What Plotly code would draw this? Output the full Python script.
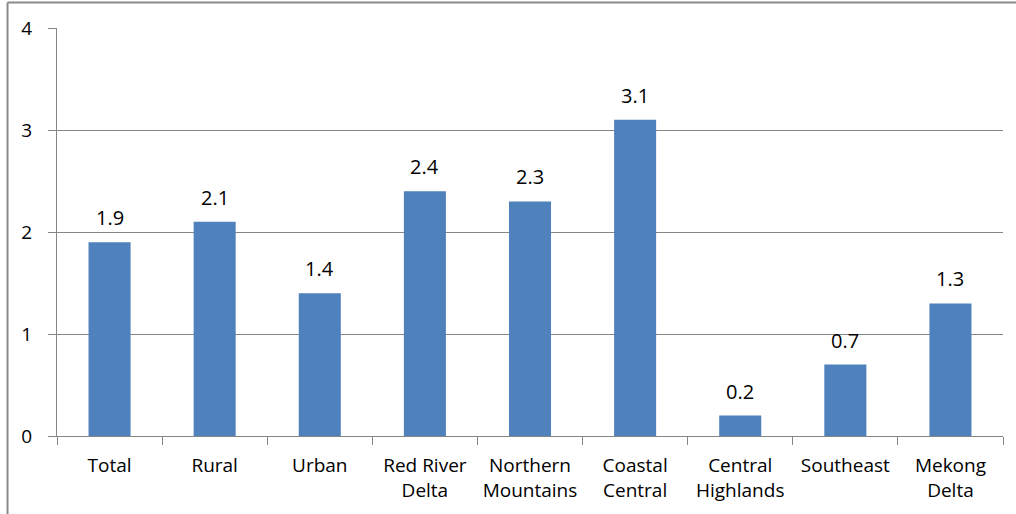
import plotly.graph_objects as go

categories = ["Total", "Rural", "Urban", "Red River<br>Delta", "Northern<br>Mountains",
              "Coastal<br>Central", "Central<br>Highlands", "Southeast", "Mekong<br>Delta"]
values = [1.9, 2.1, 1.4, 2.4, 2.3, 3.1, 0.2, 0.7, 1.3]
y_ticks = [0, 1, 2, 3, 4]

FONT = "Open Sans"
GRAY = "#868686"
BLUE = "#4f81bd"

fig = go.Figure(
    go.Bar(
        x=categories,
        y=values,
        marker=dict(color=BLUE, line=dict(width=0)),
        width=0.4,
        hoverinfo="x+y",
    )
)

# Value labels above each bar
for cat, v in zip(categories, values):
    fig.add_annotation(
        x=cat, y=v, xref="x", yref="y",
        text=f"{v:.1f}",
        showarrow=False,
        yanchor="bottom",
        yshift=9,
        font=dict(family=FONT, size=20, color="#000000"),
    )

fig.update_layout(
    width=1016,
    height=514,
    margin=dict(l=57, r=13, t=28, b=78),
    paper_bgcolor="white",
    plot_bgcolor="white",
    showlegend=False,
    font=dict(family=FONT, size=19, color="#000000"),
)

fig.update_xaxes(
    showline=True,
    linecolor=GRAY,
    linewidth=1,
    ticks="outside",
    tickson="boundaries",
    ticklen=8,
    tickcolor=GRAY,
    ticklabelstandoff=12,
    tickfont=dict(family=FONT, size=19),
    showgrid=False,
    fixedrange=True,
)

fig.update_yaxes(
    range=[0, 4],
    tickvals=y_ticks,
    ticktext=[str(t) for t in y_ticks],
    showline=True,
    linecolor=GRAY,
    linewidth=1,
    ticks="outside",
    ticklen=8,
    tickcolor=GRAY,
    ticklabelstandoff=12,
    tickfont=dict(family=FONT, size=19),
    showgrid=True,
    gridcolor=GRAY,
    gridwidth=1,
    zeroline=False,
    fixedrange=True,
)

# Outer chart frame (top and left edges)
fig.add_shape(type="line", xref="paper", yref="paper",
              x0=-0.0523, x1=1.02, y0=1.0625, y1=1.0625,
              line=dict(color="#8a8a8a", width=2))
fig.add_shape(type="line", xref="paper", yref="paper",
              x0=-0.0523, x1=-0.0523, y0=1.0625, y1=-0.2,
              line=dict(color="#8a8a8a", width=2))

fig.write_html("out.html")
